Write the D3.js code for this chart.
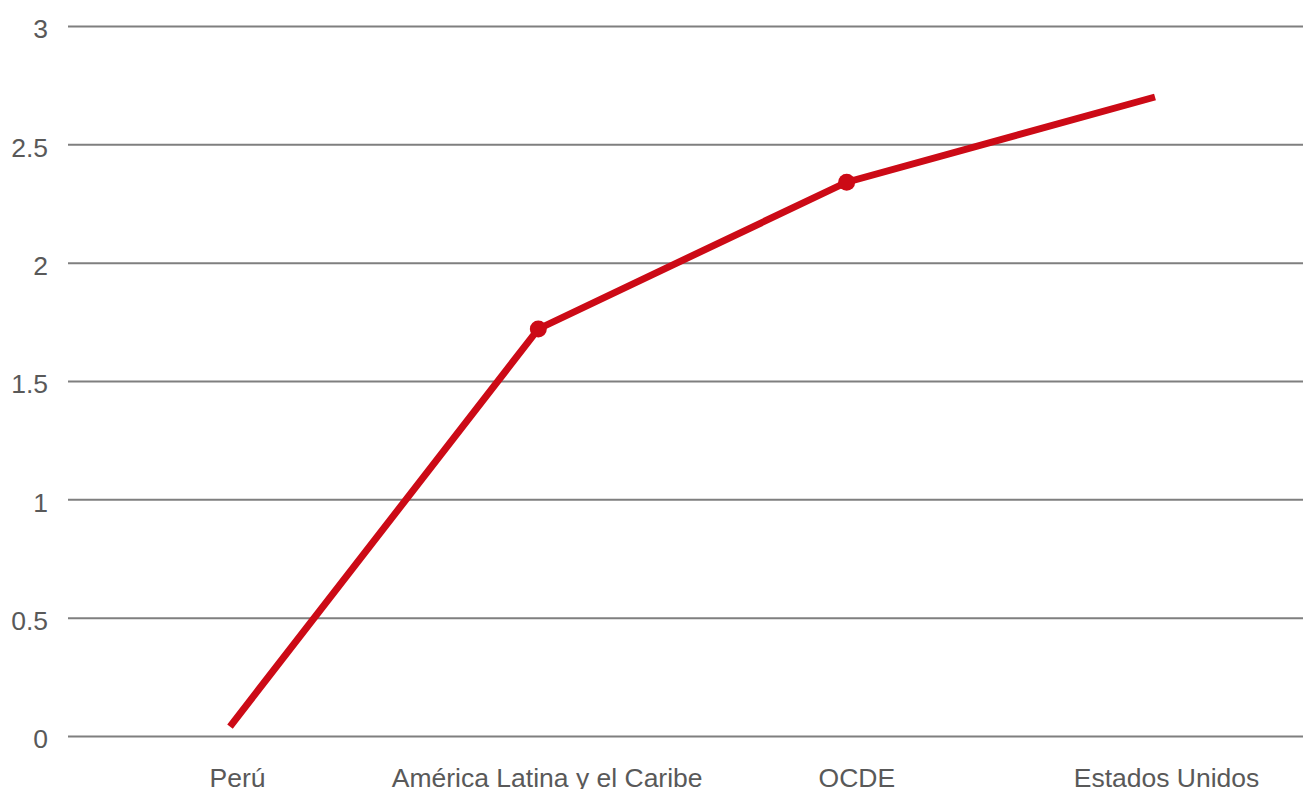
<!DOCTYPE html>
<html><head><meta charset="utf-8">
<script src="https://cdn.jsdelivr.net/npm/d3@7"></script>
<style>body{margin:0;background:#fff;} svg{display:block;font-family:"Liberation Sans",Arial,sans-serif;}</style>
</head><body>
<svg id="c" width="1303" height="789"></svg>
<script>
const categories = ["Perú", "América Latina y el Caribe", "OCDE", "Estados Unidos"];
const values = [0.04, 1.72, 2.34, 2.70];
const markerShown = [false, true, true, false];
const yTicks = [0, 0.5, 1, 1.5, 2, 2.5, 3];

const svg = d3.select("#c");
const y = d3.scaleLinear().domain([0, 3]).range([736, 26]);
const xLine = d3.scalePoint().domain(categories).range([230, 1155]);
const xLab = d3.scalePoint().domain(categories).range([237, 1166]);

// gridlines + y labels
const yAxis = d3.axisLeft(y).tickValues(yTicks).tickSize(-(1303 - 68)).tickPadding(20)
  .tickFormat(d3.format("~g"));
const gy = svg.append("g").attr("transform", "translate(68,0)").call(yAxis);
gy.select(".domain").remove();
gy.selectAll(".tick line").attr("stroke", "#7f7f7f").attr("stroke-width", 2);
gy.selectAll(".tick text").attr("fill", "#595959").attr("font-size", 26.5).attr("dy", "0.45em");

// x labels
const xAxis = d3.axisBottom(xLab).tickSize(0).tickPadding(0);
const gx = svg.append("g").attr("transform", "translate(0,787)").call(xAxis);
gx.select(".domain").remove();
gx.selectAll(".tick text").attr("fill", "#595959").attr("font-size", 26.5).attr("dy", "0");

// line
const line = d3.line().x((d, i) => xLine(categories[i])).y(d => y(d));
svg.append("path").datum(values).attr("d", line)
  .attr("fill", "none").attr("stroke", "#cc0a16").attr("stroke-width", 7);

svg.selectAll("circle.m").data(values.map((v, i) => ({v, c: categories[i], s: markerShown[i]})).filter(d => d.s))
  .enter().append("circle").attr("class", "m")
  .attr("cx", d => xLine(d.c)).attr("cy", d => y(d.v)).attr("r", 8.5).attr("fill", "#cc0a16");
</script>
</body></html>
